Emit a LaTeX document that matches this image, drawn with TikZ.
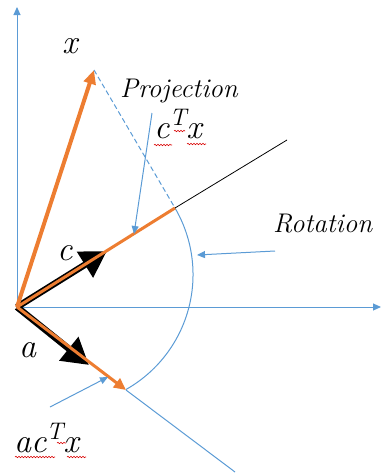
\documentclass[tikz,border=0pt]{standalone}
\usepackage{fontspec}
\usetikzlibrary{arrows.meta,decorations.pathmorphing}
\definecolor{obl}{HTML}{5B9BD5}
\definecolor{oor}{HTML}{ED7D31}
\newcommand{\supT}{\raisebox{13pt}{\fontsize{24}{28}\selectfont T}}
\begin{document}
\begin{tikzpicture}[x=1pt,y=-1pt,
  axis/.style={obl, line width=1pt, -{Triangle[length=8pt,width=7pt]}},
  bline/.style={obl, line width=1pt},
  callout/.style={obl, line width=1pt, -{Triangle[length=8pt,width=7pt]}},
  blackvec/.style={black, line width=6.5pt, -{Triangle[length=26pt,width=29pt]}},
  orvec/.style={oor, line width=3pt},
  mathlbl/.style={inner sep=0pt, font=\fontsize{34}{40}\selectfont\itshape},
  txtlbl/.style={inner sep=0pt, font=\fontsize{27}{32}\selectfont\itshape},
  wavy/.style={red!85!black, line width=0.6pt, decorate, decoration={snake, segment length=3pt, amplitude=0.7pt}}
]
\useasboundingbox (0,0) rectangle (381,474);
% key points
\coordinate (O) at (17,307);
\coordinate (ytop) at (17,7);
\coordinate (xright) at (381,307);
\coordinate (X) at (94,70);
\coordinate (P) at (175,208);
\coordinate (Lend) at (287,140);
\coordinate (C) at (107,251);
\coordinate (A) at (89,365);
\coordinate (Q) at (126,390);
\coordinate (Qend) at (235,472);
\coordinate (projfrom) at (152,113);
\coordinate (projto) at (134,234);
\coordinate (rotfrom) at (275,251);
\coordinate (rotto) at (197,255);
\coordinate (acfrom) at (50,407);
\coordinate (acto) at (108,377);
% axes
\draw[axis] (O) -- (ytop);
\draw[axis] (O) -- (xright);
% rotation arc
\draw[bline] (P) arc[start angle=-30.3, end angle=60.5, radius=132];
% projection dashed line
\draw[bline, dash pattern=on 5pt off 3pt] (X) -- (P);
% c direction line
\draw[black, line width=0.8pt] (P) -- (Lend);
% continuation of a direction
\draw[bline] (Q) -- (Qend);
% black unit vectors
\draw[blackvec] (O) -- (C);
\draw[blackvec] (O) -- (A);
% orange vectors
\draw[oor, line width=4pt, -{Triangle[length=14pt,width=12pt]}] (O) -- (X);
\draw[orvec] (O) -- (P);
\draw[orvec, -{Triangle[length=12pt,width=11pt]}] (O) -- (Q);
% callout arrows
\draw[callout] (projfrom) -- (projto);
\draw[callout] (rotfrom) -- (rotto);
\draw[callout] (acfrom) -- (acto);
% labels
\node[mathlbl, anchor=base west] (xl) at (62,53) {x};
\node[txtlbl, anchor=base west] (projl) at (120,97) {Projection};
\node[mathlbl, anchor=base west] (ctx) at (154,138) {c\supT x};
\node[txtlbl, anchor=base west] (rotl) at (273,232) {Rotation};
\node[mathlbl, anchor=base west] (cl) at (57,260) {c};
\node[mathlbl, anchor=base west] (al) at (19,357) {a};
\node[mathlbl, anchor=base west] (actx) at (14,452) {ac\supT x};
% spell-check wavy underlines
\draw[wavy] (154,145) -- (172,145);
\draw[wavy] (174,131) -- (185,131);
\draw[wavy] (187,144) -- (206,144);
\draw[wavy] (15,457) -- (55,457);
\draw[wavy] (57,443) -- (66,443);
\draw[wavy] (67,457) -- (86,457);
\end{tikzpicture}
\end{document}
